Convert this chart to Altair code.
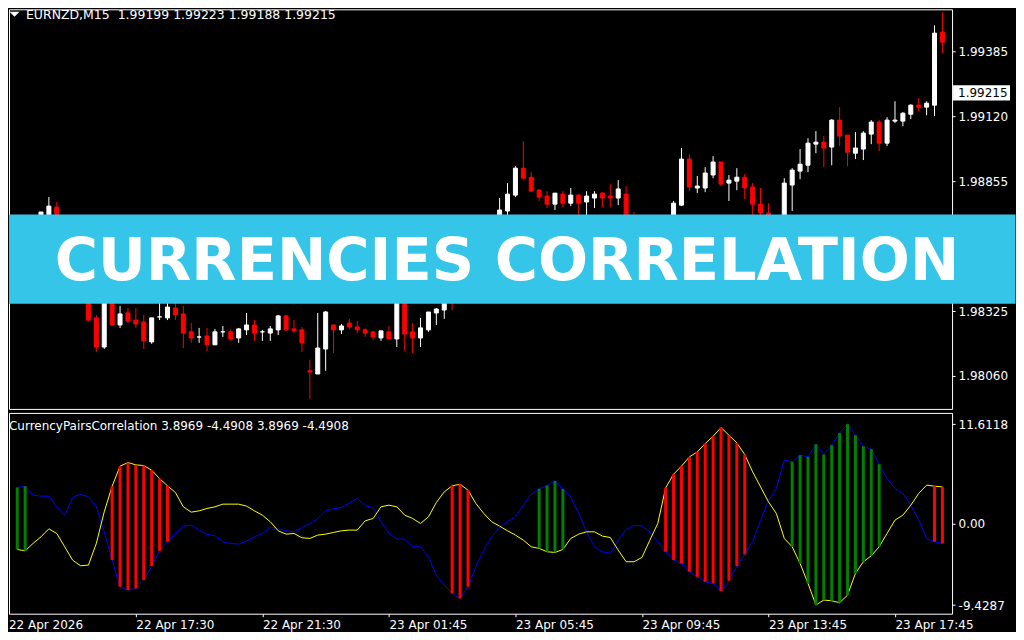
import json
import altair as alt
import pandas as pd

FONT = "DejaVu Sans"

# ---------------- data ----------------
bar_index = list(range(119))

open_price = [
    1.98729, 1.98684, 1.98611, 1.98643, 1.98659, 1.98708, 1.98749, 1.98684, 1.98590, 1.98521,
    1.98439, 1.98297, 1.98178, 1.98399, 1.98268, 1.98317, 1.98288, 1.98280, 1.98199, 1.98301,
    1.98297, 1.98337, 1.98313, 1.98240, 1.98219, 1.98223, 1.98187, 1.98240, 1.98240, 1.98215,
    1.98248, 1.98268, 1.98240, 1.98235, 1.98248, 1.98305, 1.98252, 1.98248, 1.98081, 1.98068,
    1.98170, 1.98268, 1.98248, 1.98276, 1.98260, 1.98248, 1.98240, 1.98215, 1.98240, 1.98211,
    1.98480, 1.98240, 1.98215, 1.98248, 1.98317, 1.98329, 1.98509, 1.98427, 1.98505, 1.98570,
    1.98521, 1.98611, 1.98631, 1.98733, 1.98798, 1.98908, 1.98871, 1.98818, 1.98794, 1.98761,
    1.98802, 1.98765, 1.98798, 1.98770, 1.98786, 1.98806, 1.98794, 1.98786, 1.98802, 1.98611,
    1.98521, 1.98468, 1.98521, 1.98488, 1.98611, 1.98757, 1.98945, 1.98827, 1.98827, 1.98880,
    1.98933, 1.98847, 1.98855, 1.98871, 1.98831, 1.98761, 1.98725, 1.98631, 1.98590, 1.98839,
    1.98896, 1.98920, 1.99006, 1.99014, 1.98994, 1.99104, 1.99043, 1.98969, 1.98986, 1.99047,
    1.99096, 1.99010, 1.99100, 1.99100, 1.99128, 1.99165, 1.99157, 1.99165, 1.99463,
]
high_price = [
    1.98737, 1.98700, 1.98672, 1.98692, 1.98729, 1.98790, 1.98770, 1.98700, 1.98611, 1.98537,
    1.98468, 1.98309, 1.98427, 1.98415, 1.98346, 1.98337, 1.98337, 1.98309, 1.98297, 1.98374,
    1.98366, 1.98374, 1.98346, 1.98276, 1.98256, 1.98256, 1.98252, 1.98264, 1.98252, 1.98256,
    1.98317, 1.98288, 1.98248, 1.98264, 1.98309, 1.98309, 1.98288, 1.98260, 1.98125, 1.98317,
    1.98325, 1.98268, 1.98272, 1.98293, 1.98284, 1.98256, 1.98244, 1.98244, 1.98264, 1.98521,
    1.98496, 1.98276, 1.98297, 1.98321, 1.98337, 1.98427, 1.98549, 1.98537, 1.98590, 1.98594,
    1.98627, 1.98700, 1.98786, 1.98847, 1.98916, 1.99018, 1.98892, 1.98823, 1.98814, 1.98806,
    1.98814, 1.98827, 1.98802, 1.98814, 1.98814, 1.98810, 1.98843, 1.98859, 1.98835, 1.98729,
    1.98549, 1.98537, 1.98570, 1.98611, 1.98774, 1.98990, 1.98965, 1.98876, 1.98912, 1.98957,
    1.98933, 1.98880, 1.98908, 1.98884, 1.98847, 1.98827, 1.98765, 1.98672, 1.98867, 1.98908,
    1.98986, 1.99030, 1.99059, 1.99039, 1.99108, 1.99157, 1.99043, 1.99055, 1.99059, 1.99104,
    1.99104, 1.99116, 1.99181, 1.99137, 1.99169, 1.99194, 1.99181, 1.99491, 1.99544,
]
low_price = [
    1.98668, 1.98611, 1.98586, 1.98627, 1.98651, 1.98692, 1.98668, 1.98570, 1.98488, 1.98399,
    1.98284, 1.98158, 1.98170, 1.98264, 1.98256, 1.98276, 1.98256, 1.98170, 1.98191, 1.98288,
    1.98288, 1.98288, 1.98174, 1.98195, 1.98195, 1.98162, 1.98187, 1.98219, 1.98203, 1.98195,
    1.98227, 1.98203, 1.98203, 1.98203, 1.98227, 1.98244, 1.98235, 1.98158, 1.97966, 1.98068,
    1.98081, 1.98154, 1.98231, 1.98252, 1.98235, 1.98219, 1.98207, 1.98203, 1.98211, 1.98178,
    1.98162, 1.98154, 1.98178, 1.98240, 1.98268, 1.98293, 1.98329, 1.98407, 1.98488, 1.98496,
    1.98505, 1.98590, 1.98611, 1.98708, 1.98790, 1.98863, 1.98810, 1.98774, 1.98745, 1.98737,
    1.98749, 1.98753, 1.98692, 1.98692, 1.98745, 1.98749, 1.98749, 1.98757, 1.98570, 1.98488,
    1.98427, 1.98439, 1.98464, 1.98468, 1.98590, 1.98753, 1.98814, 1.98806, 1.98810, 1.98867,
    1.98835, 1.98774, 1.98818, 1.98782, 1.98717, 1.98692, 1.98590, 1.98521, 1.98570, 1.98733,
    1.98863, 1.98892, 1.98969, 1.98912, 1.98920, 1.98998, 1.98916, 1.98945, 1.98941, 1.99006,
    1.98977, 1.98998, 1.99092, 1.99079, 1.99108, 1.99141, 1.99124, 1.99120, 1.99377,
]
close_price = [
    1.98684, 1.98631, 1.98643, 1.98668, 1.98729, 1.98753, 1.98684, 1.98590, 1.98521, 1.98439,
    1.98288, 1.98178, 1.98407, 1.98268, 1.98313, 1.98284, 1.98272, 1.98203, 1.98297, 1.98301,
    1.98341, 1.98309, 1.98235, 1.98215, 1.98219, 1.98187, 1.98240, 1.98240, 1.98211, 1.98252,
    1.98268, 1.98235, 1.98240, 1.98252, 1.98305, 1.98248, 1.98244, 1.98195, 1.98076, 1.98174,
    1.98321, 1.98248, 1.98264, 1.98260, 1.98248, 1.98235, 1.98219, 1.98244, 1.98211, 1.98488,
    1.98231, 1.98215, 1.98256, 1.98321, 1.98333, 1.98407, 1.98427, 1.98509, 1.98570, 1.98521,
    1.98611, 1.98672, 1.98737, 1.98802, 1.98908, 1.98867, 1.98814, 1.98790, 1.98761, 1.98806,
    1.98765, 1.98798, 1.98765, 1.98794, 1.98802, 1.98786, 1.98786, 1.98823, 1.98611, 1.98521,
    1.98468, 1.98521, 1.98488, 1.98590, 1.98765, 1.98945, 1.98831, 1.98835, 1.98888, 1.98933,
    1.98843, 1.98859, 1.98871, 1.98827, 1.98761, 1.98725, 1.98631, 1.98570, 1.98847, 1.98900,
    1.98924, 1.99010, 1.99014, 1.98990, 1.99104, 1.99039, 1.98973, 1.98990, 1.99051, 1.99096,
    1.99010, 1.99104, 1.99104, 1.99132, 1.99165, 1.99157, 1.99173, 1.99459, 1.99422,
]

corr_blue = [
    4.13, 4.25, 4.40, 3.36, 3.24, 3.24, 2.00, 0.99, 3.08, 3.47,
    3.16, 2.00, -0.91, -4.20, -7.30, -7.69, -7.49, -6.52, -4.90, -3.12,
    -2.07, -1.10, -0.25, -0.13, -0.71, -1.22, -1.37, -2.07, -2.26, -2.34,
    -1.99, -1.49, -1.10, -0.40, -0.52, -0.79, -0.91, -0.40, 0.06, 0.64,
    1.53, 1.77, 1.92, 2.46, 2.97, 2.15, 1.88, 0.26, -1.10, -1.76,
    -1.76, -2.65, -2.65, -3.81, -5.94, -7.11, -8.07, -8.66, -7.30, -4.97,
    -3.04, -1.49, -0.40, 0.26, 0.84, 2.19, 3.47, 4.09, 4.48, 5.02,
    4.09, 3.16, 1.22, -0.91, -2.65, -3.23, -3.43, -1.88, -0.64, -0.17,
    -0.21, -0.91, -2.07, -3.23, -4.20, -4.59, -5.56, -6.14, -6.72, -6.91,
    -7.80, -6.60, -4.90, -3.54, -2.07, 0.45, 2.70, 4.13, 7.42, 7.23,
    8.00, 7.81, 9.28, 8.08, 9.17, 10.60, 11.6118, 10.33, 9.05, 8.70,
    6.96, 5.29, 4.13, 3.55, 2.19, 0.45, -1.68, -2.07, -2.26,
]
corr_yellow = [
    -2.34, -2.96, -3.12, -2.26, -1.49, -0.56, -1.10, -2.65, -4.20, -4.86,
    -4.78, -2.26, 1.42, 4.40, 6.73, 7.15, 6.88, 6.80, 6.26, 5.29,
    4.44, 3.67, 2.00, 1.38, 1.53, 1.81, 2.00, 2.31, 2.31, 2.31,
    2.08, 1.53, 1.03, 0.26, -0.79, -1.18, -1.10, -1.60, -1.68, -1.29,
    -1.18, -0.98, -0.79, -0.71, -0.71, 0.37, 0.64, 2.00, 2.19, 2.00,
    1.03, 0.64, 0.06, 0.84, 2.50, 3.74, 4.44, 4.63, 3.94, 2.39,
    1.22, 0.26, -0.25, -0.79, -1.29, -1.88, -2.65, -2.84, -3.23, -3.31,
    -2.96, -1.68, -1.18, -0.91, -0.91, -1.41, -1.57, -3.04, -4.39, -4.39,
    -3.89, -1.88, 0.06, 4.21, 5.80, 6.73, 7.81, 8.39, 9.36, 10.21,
    11.22, 10.33, 9.44, 8.08, 6.07, 4.32, 2.58, 1.22, -1.68, -2.65,
    -4.59, -6.91, -9.4287, -8.85, -8.93, -9.16, -8.27, -5.75, -4.39, -3.70,
    -2.65, -1.10, 0.45, 1.03, 2.19, 3.55, 4.52, 4.40, 4.32,
]
# 1 = green histogram bar, -1 = red histogram bar, 0 = none
hist_signal = [
    1, 1, 1, 0, 0, 0, 0, 0, 0, 0,
    0, 0, 0, -1, -1, -1, -1, -1, -1, -1,
    -1, 0, 0, 0, 0, 0, 0, 0, 0, 0,
    0, 0, 0, 0, 0, 0, 0, 0, 0, 0,
    0, 0, 0, 0, 0, 0, 0, 0, 0, 0,
    0, 0, 0, 0, 0, 0, -1, -1, -1, 0,
    0, 0, 0, 0, 0, 0, 0, 1, 1, 1,
    1, 0, 0, 0, 0, 0, 0, 0, 0, 0,
    0, 0, 0, -1, -1, -1, -1, -1, -1, -1,
    -1, -1, -1, -1, 0, 0, 0, 0, 0, 1,
    1, 1, 1, 1, 1, 1, 1, 1, 1, 1,
    1, 0, 0, 0, 0, 0, 0, -1, -1,
]

price_ticks = [1.99385, 1.99120, 1.98855, 1.98590, 1.98325, 1.98060]
indicator_ticks = [11.6118, 0.0, -9.4287]
time_tick_index = [0, 16, 32, 48, 64, 80, 96, 112]
time_tick_labels = ["22 Apr 2026", "22 Apr 17:30", "22 Apr 21:30", "23 Apr 01:45",
                    "23 Apr 05:45", "23 Apr 09:45", "23 Apr 13:45", "23 Apr 17:45"]
symbol_title = "EURNZD,M15\u00a0 1.99199 1.99223 1.99188 1.99215"
indicator_title = "CurrencyPairsCorrelation 3.8969 -4.4908 3.8969 -4.4908"
current_price = 1.99215
banner_text = "CURRENCIES CORRELATION"

df = pd.DataFrame({
    "i": bar_index, "open": open_price, "high": high_price, "low": low_price,
    "close": close_price, "blue": corr_blue, "yellow": corr_yellow, "signal": hist_signal,
})

# ---------------- scales / axes ----------------
W = 944
H1 = 400
H2 = 201
X_MIN = 0.5875
x_scale = alt.Scale(domain=[X_MIN, 118.5875], nice=False, zero=False)
price_scale = alt.Scale(domain=[1.9792544, 1.9955623], nice=False, zero=False)
ind_scale = alt.Scale(domain=[-10.438, 12.926], nice=False, zero=False)

price_axis = alt.Axis(orient="right", values=price_ticks, format=".5f", tickSize=3,
                      labelPadding=3, title=None, domain=False, grid=False)
ind_axis = alt.Axis(
    orient="right", values=indicator_ticks, tickSize=3, labelPadding=3,
    title=None, domain=False, grid=False,
    labelExpr="datum.value == 0 ? '0.00' : (datum.value < 0 ? '-' + format(-datum.value, '.4f') : format(datum.value, '.4f'))",
)
shown_ticks = time_tick_index[1:]
shown_labels = time_tick_labels[1:]
time_expr = f"{json.dumps(shown_labels)}[indexof({json.dumps(shown_ticks)}, datum.value)]"
time_axis = alt.Axis(values=shown_ticks, labelExpr=time_expr, labelAlign="left",
                     labelFlush=False, labelOverlap=False, labelBaseline="top",
                     labelPadding=3, tickSize=3, title=None, domain=False, grid=False,
                     labelBound=False)

bull = alt.datum.close >= alt.datum.open
in_view = f"datum.i >= {X_MIN}"

# ---------------- price panel ----------------
base = alt.Chart(df).transform_filter(in_view)
wicks = base.mark_rule(strokeWidth=1).encode(
    x=alt.X("i:Q", scale=x_scale, axis=None),
    y=alt.Y("low:Q", scale=price_scale, axis=price_axis),
    y2="high:Q",
    color=alt.condition(bull, alt.value("#FFFFFF"), alt.value("#FF0000")),
)
bodies = base.mark_bar(size=4, strokeWidth=1).encode(
    x=alt.X("i:Q", scale=x_scale, axis=None),
    y=alt.Y("open:Q", scale=price_scale, axis=price_axis),
    y2="close:Q",
    color=alt.condition(bull, alt.value("#FFFFFF"), alt.value("#FF0000")),
    stroke=alt.condition(bull, alt.value("#FFFFFF"), alt.value("#FF0000")),
)

cur_df = pd.DataFrame({"price": [current_price], "label": [f"{current_price:.5f}"]})
cur_box = alt.Chart(cur_df).mark_point(
    shape="M-1,-0.27L1,-0.27L1,0.27L-1,0.27Z", size=3249, filled=True,
    fill="#FFFFFF", opacity=1, strokeWidth=0,
).encode(x=alt.value(973.5), y=alt.Y("price:Q", scale=price_scale, axis=price_axis))
cur_text = alt.Chart(cur_df).mark_text(
    align="left", baseline="middle", font=FONT, fontSize=12, color="#000000",
).encode(x=alt.value(950), y=alt.Y("price:Q", scale=price_scale, axis=price_axis), text="label:N")

title_df = pd.DataFrame({"t": [symbol_title]})
tri = alt.Chart(title_df).mark_point(
    shape="M-1,-0.5L1,-0.5L0,0.5Z", size=100, filled=True, fill="#FFFFFF", opacity=1, strokeWidth=0,
).encode(x=alt.value(5.5), y=alt.value(5))
title_txt = alt.Chart(title_df).mark_text(
    align="left", baseline="middle", font=FONT, fontSize=12.5, color="#FFFFFF",
).encode(x=alt.value(17), y=alt.value(6.2), text="t:N")

banner_df = pd.DataFrame({"t": [banner_text]})
banner = alt.Chart(banner_df).mark_rect(color="#34C5E8").encode(
    x=alt.value(0), x2=alt.value(1007.5), y=alt.value(205.3), y2=alt.value(294.7)
)
banner_txt = alt.Chart(banner_df).mark_text(
    align="center", baseline="alphabetic", font=FONT, fontSize=59, fontWeight="bold", color="#FFFFFF",
).encode(x=alt.value(498.5), y=alt.value(270.5), text="t:N")

price_panel = alt.layer(wicks, bodies, cur_box, cur_text, tri, title_txt, banner, banner_txt).properties(
    width=W, height=H1
)

# ---------------- indicator panel ----------------
line_blue = base.mark_line(color="#0000FF", strokeWidth=1).encode(
    x=alt.X("i:Q", scale=x_scale, axis=time_axis),
    y=alt.Y("blue:Q", scale=ind_scale, axis=ind_axis),
)
line_yellow = base.mark_line(color="#FFFF00", strokeWidth=1).encode(
    x=alt.X("i:Q", scale=x_scale, axis=time_axis),
    y=alt.Y("yellow:Q", scale=ind_scale, axis=ind_axis),
)
hist = base.transform_filter("datum.signal != 0").mark_bar(size=3).encode(
    x=alt.X("i:Q", scale=x_scale, axis=time_axis),
    y=alt.Y("blue:Q", scale=ind_scale, axis=ind_axis),
    y2="yellow:Q",
    color=alt.condition(alt.datum.signal > 0, alt.value("#008000"), alt.value("#FF0000")),
)
ind_title_df = pd.DataFrame({"t": [indicator_title]})
ind_title = alt.Chart(ind_title_df).mark_text(
    align="left", baseline="middle", font=FONT, fontSize=12, color="#FFFFFF",
).encode(x=alt.value(0), y=alt.value(13), text="t:N")
first_label_df = pd.DataFrame({"t": [time_tick_labels[0]]})
first_label = alt.Chart(first_label_df).mark_text(
    align="left", baseline="top", font=FONT, fontSize=12, color="#FFFFFF",
).encode(x=alt.value(0), y=alt.value(H2 + 6), text="t:N")

ind_panel = alt.layer(line_blue, line_yellow, hist, ind_title, first_label).properties(width=W, height=H2)

chart = alt.vconcat(price_panel, ind_panel, spacing=2).properties(
    padding={"left": 0, "top": 0, "right": 0, "bottom": 0},
    background="#000000",
).configure_view(
    fill="#000000", stroke="#FFFFFF", strokeWidth=1
).configure_axis(
    labelFont=FONT, labelFontSize=12, labelColor="#FFFFFF", tickColor="#FFFFFF", tickWidth=1
)

chart.save("out.html", embed_options={"renderer": "svg", "actions": False})
